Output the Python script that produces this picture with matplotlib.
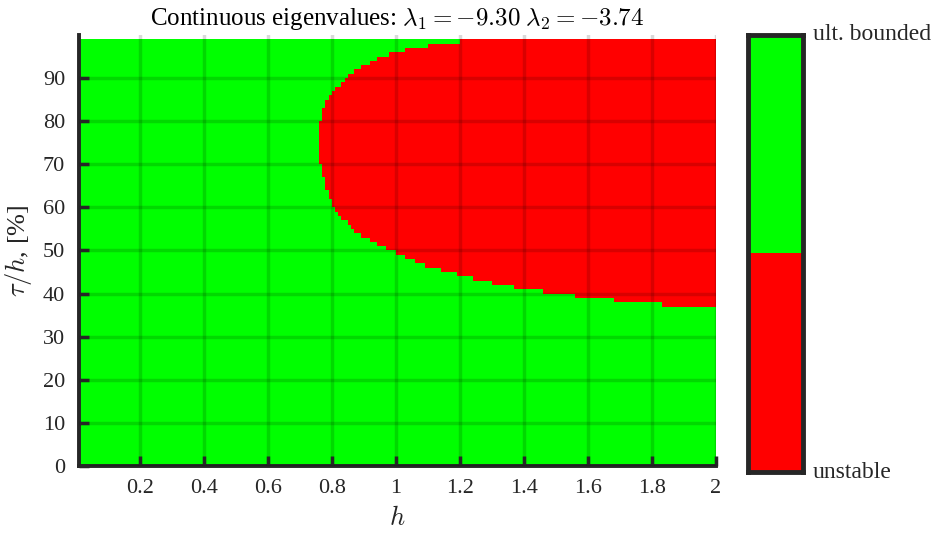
import numpy as np
import matplotlib
matplotlib.use("Agg")
import matplotlib.pyplot as plt
from matplotlib.colors import ListedColormap

# ---------------- data ----------------
h_min, h_max, h_step = 0.01, 2.0, 0.01       # sampling of h
tau_max = 99                                   # tau/h rows 0..98 (percent)

# rows (tau/h in %) that contain an unstable part, and the h where it starts
tau_rows = list(range(37, 99))
h_start = [1.83, 1.68, 1.56, 1.46, 1.37, 1.30, 1.24, 1.19, 1.14, 1.09,   # 37-46
           1.06, 1.03, 1.00, 0.97, 0.94, 0.92, 0.89, 0.87, 0.86, 0.85,   # 47-56
           0.83, 0.82, 0.81, 0.80, 0.80, 0.79, 0.79, 0.78, 0.78, 0.78,   # 57-66
           0.77, 0.77, 0.77, 0.76, 0.76, 0.76, 0.76, 0.76, 0.76, 0.76,   # 67-76
           0.76, 0.76, 0.76, 0.77, 0.77, 0.77, 0.78, 0.78, 0.79, 0.80,   # 77-86
           0.81, 0.83, 0.84, 0.85, 0.87, 0.89, 0.92, 0.94, 0.98, 1.03,   # 87-96
           1.10, 1.20]                                                  # 97-98

status_labels = ["unstable", "ult. bounded"]
status_colors = ["#ff0000", "#00ff00"]

xticks = [0.2, 0.4, 0.6, 0.8, 1.0, 1.2, 1.4, 1.6, 1.8, 2.0]
xtick_labels = ["0.2", "0.4", "0.6", "0.8", "1", "1.2", "1.4", "1.6", "1.8", "2"]
yticks = [0, 10, 20, 30, 40, 50, 60, 70, 80, 90]

title = r"Continuous eigenvalues: $\lambda_1 = -9.30$ $\lambda_2 = -3.74$"
xlabel = r"$h$"
ylabel = r"$\tau/h$, [%]"

# ---------------- build grid ----------------
h_edges = np.round(np.arange(h_min, h_max + h_step / 2, h_step), 2)
tau_edges = np.arange(0, tau_max + 1)
Z = np.ones((tau_max, len(h_edges) - 1))
for k, hs in zip(tau_rows, h_start):
    Z[k, h_edges[:-1] >= hs - 1e-9] = 0

# ---------------- plot ----------------
plt.rcParams['font.family'] = ['Liberation Serif', 'DejaVu Serif']
plt.rcParams['mathtext.fontset'] = 'cm'
dark = "#262626"

fig = plt.figure(figsize=(9.39, 5.34), dpi=100)
ax = fig.add_axes([0.0841, 0.1273, 0.6784, 0.8072])
cmap = ListedColormap(status_colors)
ax.pcolormesh(h_edges, tau_edges, Z, cmap=cmap, vmin=0, vmax=1, shading='flat')

ax.set_xlim(h_min, h_max)
ax.set_ylim(0, 100)
ax.set_xticks(xticks)
ax.set_xticklabels(xtick_labels)
ax.set_yticks(yticks)
ax.set_axisbelow(False)
ax.grid(True, color='black', alpha=0.15, linewidth=2.5)
for s in ['top', 'right']:
    ax.spines[s].set_visible(False)
for s in ['left', 'bottom']:
    ax.spines[s].set_linewidth(2.8)
    ax.spines[s].set_color(dark)
ax.tick_params(direction='in', length=7, width=2.5, color=dark,
               labelcolor=dark, labelsize=16, pad=9)
ax.tick_params(axis='y', pad=10)
ax.set_title(title, fontsize=18, color='black', pad=7)
ax.set_xlabel(xlabel, fontsize=19, color=dark, labelpad=6)
ax.set_ylabel(ylabel, fontsize=19, color=dark, labelpad=6)

# colour legend bar
cax = fig.add_axes([0.7966, 0.1161, 0.0586, 0.8184])
cax.imshow(np.array([[1], [0]]), cmap=cmap, vmin=0, vmax=1, aspect='auto',
           extent=[0, 1, 0, 2])
cax.set_xticks([])
cax.set_yticks([])
for s in cax.spines.values():
    s.set_linewidth(3.5)
    s.set_color(dark)
cax.text(1.18, 1.0, status_labels[1], transform=cax.transAxes, va='center',
         ha='left', fontsize=17, color=dark)
cax.text(1.18, 0.0, status_labels[0], transform=cax.transAxes, va='center',
         ha='left', fontsize=17, color=dark)

fig.savefig("out.png", dpi=100)
